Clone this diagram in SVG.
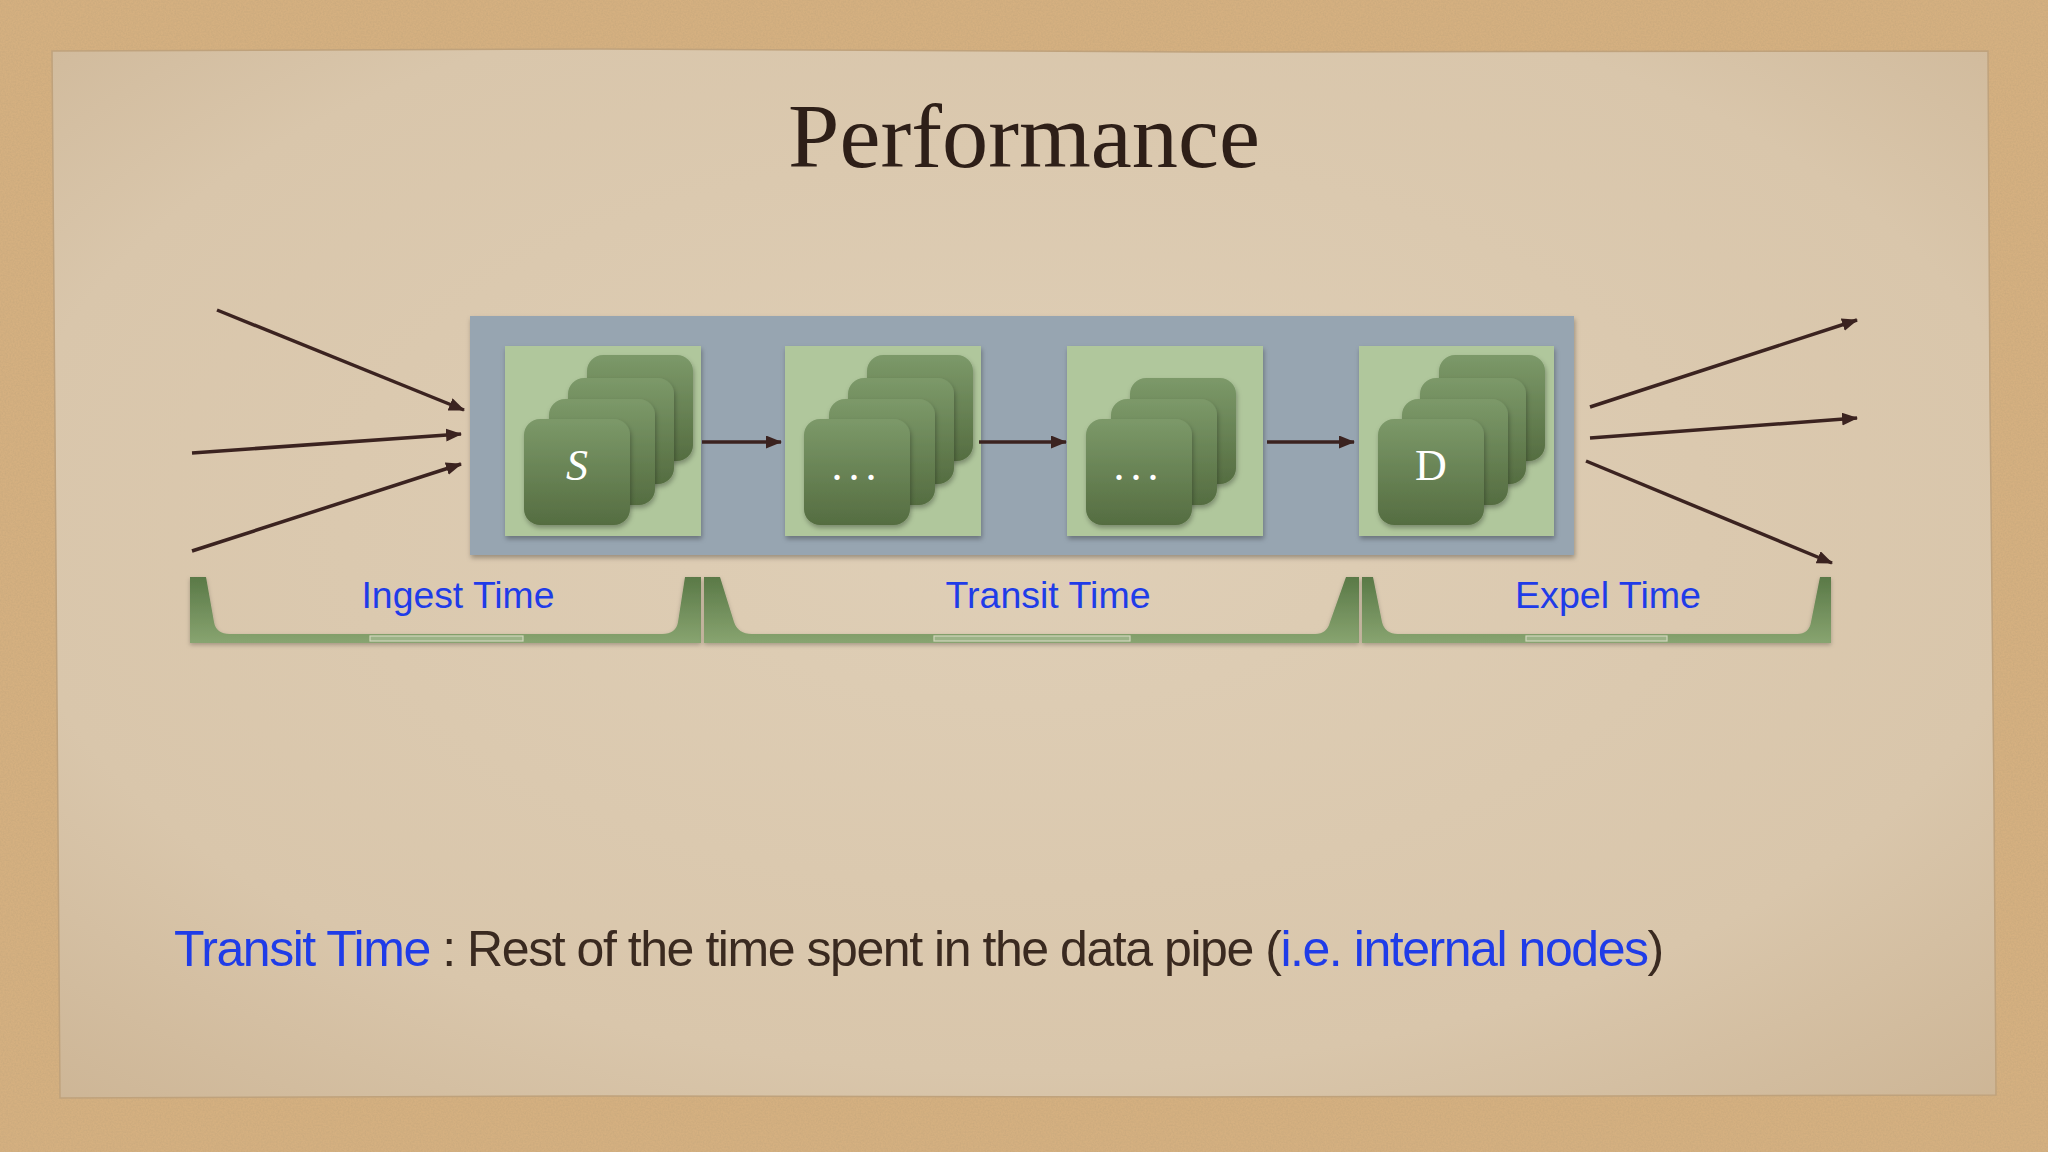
<svg xmlns="http://www.w3.org/2000/svg" width="2048" height="1152" viewBox="0 0 2048 1152">
<defs>
<style>
.lbl{font-family:"Liberation Sans",Arial,sans-serif;fill:#1f3ce8;font-size:36px}
.dark{fill:#3a2a20}
.blue{fill:#1f3ce8}
.conn{stroke:#3b2320;stroke-width:3.5;fill:none;marker-end:url(#ah)}
.gbox{fill:#b0c79c;filter:url(#sh)}
.brk{fill:url(#brkGrad);filter:url(#sh2)}
.notch{fill:#9cb387;stroke:#d2d6bc;stroke-width:1.2}
.cardtxt{font-family:"Liberation Serif","DejaVu Serif",serif;fill:#ffffff;font-size:44px;text-anchor:middle}
</style>
<linearGradient id="cardGrad" x1="0" y1="0" x2="0" y2="1">
<stop offset="0" stop-color="#7c9969"/>
<stop offset="1" stop-color="#556d41"/>
</linearGradient>
<linearGradient id="brkGrad" x1="0" y1="0" x2="0" y2="1">
<stop offset="0" stop-color="#5a7947"/>
<stop offset="1" stop-color="#88a470"/>
</linearGradient>
<radialGradient id="paperGrad" cx="0.5" cy="0.45" r="0.75">
<stop offset="0" stop-color="#dfcfb7"/>
<stop offset="0.7" stop-color="#d9c6ab"/>
<stop offset="1" stop-color="#cdb595"/>
</radialGradient>
<filter id="sh" x="-10%" y="-10%" width="130%" height="130%">
<feDropShadow dx="1" dy="3" stdDeviation="2.5" flood-color="#000" flood-opacity="0.3"/>
</filter>
<filter id="sh2" x="-5%" y="-20%" width="110%" height="150%">
<feDropShadow dx="0" dy="2" stdDeviation="2" flood-color="#000" flood-opacity="0.25"/>
</filter>
<filter id="noise" x="0" y="0" width="100%" height="100%">
<feTurbulence type="fractalNoise" baseFrequency="0.6" numOctaves="3" seed="3" result="n"/>
<feColorMatrix in="n" type="matrix" values="0 0 0 0 0.55  0 0 0 0 0.38  0 0 0 0 0.2  0 0 0 0.9 -0.25"/>
</filter>
<marker id="ah" viewBox="0 0 16 13" refX="15" refY="6.5" markerWidth="16" markerHeight="13" markerUnits="userSpaceOnUse" orient="auto">
<path d="M0,0 L16,6.5 L0,13 Z" fill="#3b2320"/>
</marker>
<rect id="card" width="106" height="106" rx="16" fill="url(#cardGrad)" filter="url(#sh)"/>
</defs>

<g id="background">
<rect x="0" y="0" width="2048" height="1152" fill="#d5b080"/>
<rect x="0" y="0" width="2048" height="1152" filter="url(#noise)"/>
<polygon points="52,51 600,49 1200,52 1988,51 1990,400 1994,800 1996,1095 1200,1097 600,1096 60,1098 57,700 54,300" fill="url(#paperGrad)" stroke="#bfa27c" stroke-width="1.5"/>
</g>

<g id="title">
<text x="1024" y="167" text-anchor="middle" font-family="Liberation Serif,'DejaVu Serif',serif" font-size="92" fill="#2e1f18" textLength="472" lengthAdjust="spacingAndGlyphs">Performance</text>
</g>

<g id="container">
<rect x="470" y="316" width="1104" height="239" fill="#97a5b1" filter="url(#sh)"/>
</g>

<g id="node-S">
<rect class="gbox" x="505" y="346" width="196" height="190"/>
<use href="#card" x="587" y="355"/>
<use href="#card" x="568" y="378"/>
<use href="#card" x="549" y="399"/>
<use href="#card" x="524" y="419"/>
<text class="cardtxt" x="577" y="480" font-style="italic">S</text>
</g>

<g id="node-mid1">
<rect class="gbox" x="785" y="346" width="196" height="190"/>
<use href="#card" x="867" y="355"/>
<use href="#card" x="848" y="378"/>
<use href="#card" x="829" y="399"/>
<use href="#card" x="804" y="419"/>
<text class="cardtxt" x="857" y="480" letter-spacing="6">...</text>
</g>

<g id="node-mid2">
<rect class="gbox" x="1067" y="346" width="196" height="190"/>
<use href="#card" x="1130" y="378"/>
<use href="#card" x="1111" y="399"/>
<use href="#card" x="1086" y="419"/>
<text class="cardtxt" x="1139" y="480" letter-spacing="6">...</text>
</g>

<g id="node-D">
<rect class="gbox" x="1359" y="346" width="195" height="190"/>
<use href="#card" x="1439" y="355"/>
<use href="#card" x="1420" y="378"/>
<use href="#card" x="1402" y="399"/>
<use href="#card" x="1378" y="419"/>
<text class="cardtxt" x="1431" y="480">D</text>
</g>

<g id="connectors">
<line class="conn" x1="702" y1="442" x2="781" y2="442"/>
<line class="conn" x1="979" y1="442" x2="1066" y2="442"/>
<line class="conn" x1="1267" y1="442" x2="1354" y2="442"/>
<line class="conn" x1="217" y1="310" x2="464" y2="410"/>
<line class="conn" x1="192" y1="453" x2="461" y2="434"/>
<line class="conn" x1="192" y1="551" x2="461" y2="464"/>
<line class="conn" x1="1590" y1="407" x2="1857" y2="320"/>
<line class="conn" x1="1590" y1="438" x2="1857" y2="418"/>
<line class="conn" x1="1586" y1="461" x2="1832" y2="563"/>
</g>

<g id="bracket-ingest">
<path class="brk" d="M190,577 L206,577 L214,622 Q216,634 230,634 L662,634 Q676,634 678,622 L685,577 L701,577 L701,643 L190,643 Z"/>
<rect class="notch" x="370" y="636" width="153" height="5"/>
<text class="lbl" x="458" y="608" text-anchor="middle" textLength="193" lengthAdjust="spacingAndGlyphs">Ingest Time</text>
</g>

<g id="bracket-transit">
<path class="brk" d="M704,577 L720,577 L734,622 Q738,634 752,634 L1315,634 Q1327,634 1330,622 L1346,577 L1359,577 L1359,643 L704,643 Z"/>
<rect class="notch" x="934" y="636" width="196" height="5"/>
<text class="lbl" x="1048" y="608" text-anchor="middle" textLength="205" lengthAdjust="spacingAndGlyphs">Transit Time</text>
</g>

<g id="bracket-expel">
<path class="brk" d="M1362,577 L1373,577 L1382,622 Q1385,634 1398,634 L1797,634 Q1809,634 1811,622 L1820,577 L1831,577 L1831,643 L1362,643 Z"/>
<rect class="notch" x="1526" y="636" width="141" height="5"/>
<text class="lbl" x="1608" y="608" text-anchor="middle" textLength="186" lengthAdjust="spacingAndGlyphs">Expel Time</text>
</g>

<g id="caption">
<text x="174" y="966" font-family="Liberation Sans,Arial,sans-serif" font-size="50" letter-spacing="-1.45"><tspan class="blue">Transit Time</tspan><tspan class="dark"> : Rest of the time spent in the data pipe (</tspan><tspan class="blue">i.e. internal nodes</tspan><tspan class="dark">)</tspan></text>
</g>
</svg>
